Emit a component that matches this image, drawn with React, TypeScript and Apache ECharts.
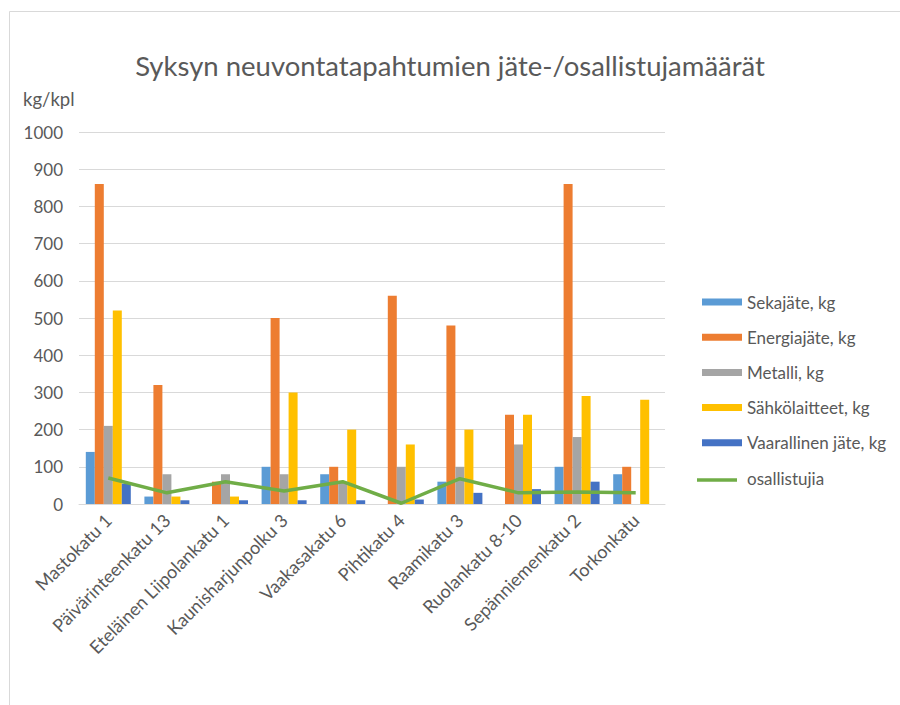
import React, { useEffect, useRef } from "react";
import * as echarts from "echarts";

const categories = [
  "Mastokatu 1",
  "Päivärinteenkatu 13",
  "Eteläinen Liipolankatu 1",
  "Kaunisharjunpolku 3",
  "Vaakasakatu 6",
  "Pihtikatu 4",
  "Raamikatu 3",
  "Ruolankatu 8-10",
  "Sepänniemenkatu 2",
  "Torkonkatu",
];

const sekajate = [140, 20, 0, 100, 80, 0, 60, 0, 100, 80];
const energiajate = [860, 320, 60, 500, 100, 560, 480, 240, 860, 100];
const metalli = [210, 80, 80, 80, 60, 100, 100, 160, 180, 0];
const sahkolaitteet = [520, 20, 20, 300, 200, 160, 200, 240, 290, 280];
const vaarallinen = [55, 10, 10, 10, 10, 12, 30, 40, 60, 0];
const osallistujia = [70, 30, 60, 35, 60, 2, 68, 30, 32, 30];

const yTicks = { min: 0, max: 1000, interval: 100 };

const FONT = "Lato, 'Open Sans', sans-serif";
const TEXT = "#595959";
const LINE_COLOR = "#70AD47";

const barSeries = [
  { name: "Sekajäte, kg", data: sekajate, color: "#5B9BD5" },
  { name: "Energiajäte, kg", data: energiajate, color: "#ED7D31" },
  { name: "Metalli, kg", data: metalli, color: "#A5A5A5" },
  { name: "Sähkölaitteet, kg", data: sahkolaitteet, color: "#FFC000" },
  { name: "Vaarallinen jäte, kg", data: vaarallinen, color: "#4472C4" },
];

export default function App() {
  const ref = useRef<HTMLDivElement>(null);
  useEffect(() => {
    if (!ref.current) return;
    const chart = echarts.init(ref.current, null, { renderer: "svg" });
    chart.setOption({
      animation: false,
      backgroundColor: "#ffffff",
      textStyle: { fontFamily: FONT },
      title: {
        text: "Syksyn neuvontatapahtumien jäte-/osallistujamäärät",
        left: "center",
        top: 46,
        textStyle: { fontFamily: FONT, fontSize: 27.5, fontWeight: "normal", color: TEXT },
      },
      graphic: [
        {
          type: "line",
          shape: { x1: 9.5, y1: 11.5, x2: 900, y2: 11.5 },
          style: { stroke: "#d9d9d9", lineWidth: 1 },
        },
        {
          type: "line",
          shape: { x1: 9.5, y1: 11.5, x2: 9.5, y2: 705 },
          style: { stroke: "#d9d9d9", lineWidth: 1 },
        },
        {
          type: "text",
          left: 23,
          top: 89,
          style: { text: "kg/kpl", font: `18.5px ${FONT}`, fill: TEXT },
        },
        {
          type: "line",
          shape: { x1: 697, y1: 480, x2: 737, y2: 480 },
          style: { stroke: LINE_COLOR, lineWidth: 3.5 },
        },
      ],
      legend: {
        orient: "vertical",
        left: 697,
        top: 286,
        itemWidth: 40,
        itemHeight: 7,
        itemGap: 13.2,
        textStyle: { fontFamily: FONT, fontSize: 17, color: TEXT, lineHeight: 22 },
        data: [
          ...barSeries.map((s) => ({ name: s.name, icon: "rect" })),
          { name: "osallistujia", icon: "none" },
        ],
      },
      grid: { left: 79, right: 235, top: 132, bottom: 201, containLabel: false },
      xAxis: {
        type: "category",
        data: categories,
        axisLine: { lineStyle: { color: "#d9d9d9", width: 1 } },
        axisTick: { show: false },
        axisLabel: {
          rotate: 45,
          interval: 0,
          fontSize: 18,
          color: TEXT,
          fontFamily: FONT,
          margin: 13,
        },
      },
      yAxis: {
        type: "value",
        min: yTicks.min,
        max: yTicks.max,
        interval: yTicks.interval,
        axisLine: { show: false },
        axisTick: { show: false },
        axisLabel: {
          fontSize: 17,
          color: TEXT,
          fontFamily: FONT,
          margin: 16,
          formatter: (v: number) => String(v),
        },
        splitLine: { lineStyle: { color: "#d9d9d9", width: 1 } },
      },
      series: [
        ...barSeries.map((s) => ({
          name: s.name,
          type: "bar",
          data: s.data,
          barWidth: 9,
          barGap: "0%",
          itemStyle: { color: s.color },
          emphasis: { disabled: true },
        })),
        {
          name: "osallistujia",
          type: "line",
          data: osallistujia,
          symbol: "none",
          showSymbol: false,
          lineStyle: { color: LINE_COLOR, width: 3.5 },
          itemStyle: { color: LINE_COLOR },
          z: 5,
        },
      ],
    });
    return () => chart.dispose();
  }, []);
  return (
    <div
      ref={ref}
      style={{ position: "absolute", left: 0, top: 0, width: 900, height: 705 }}
    />
  );
}
